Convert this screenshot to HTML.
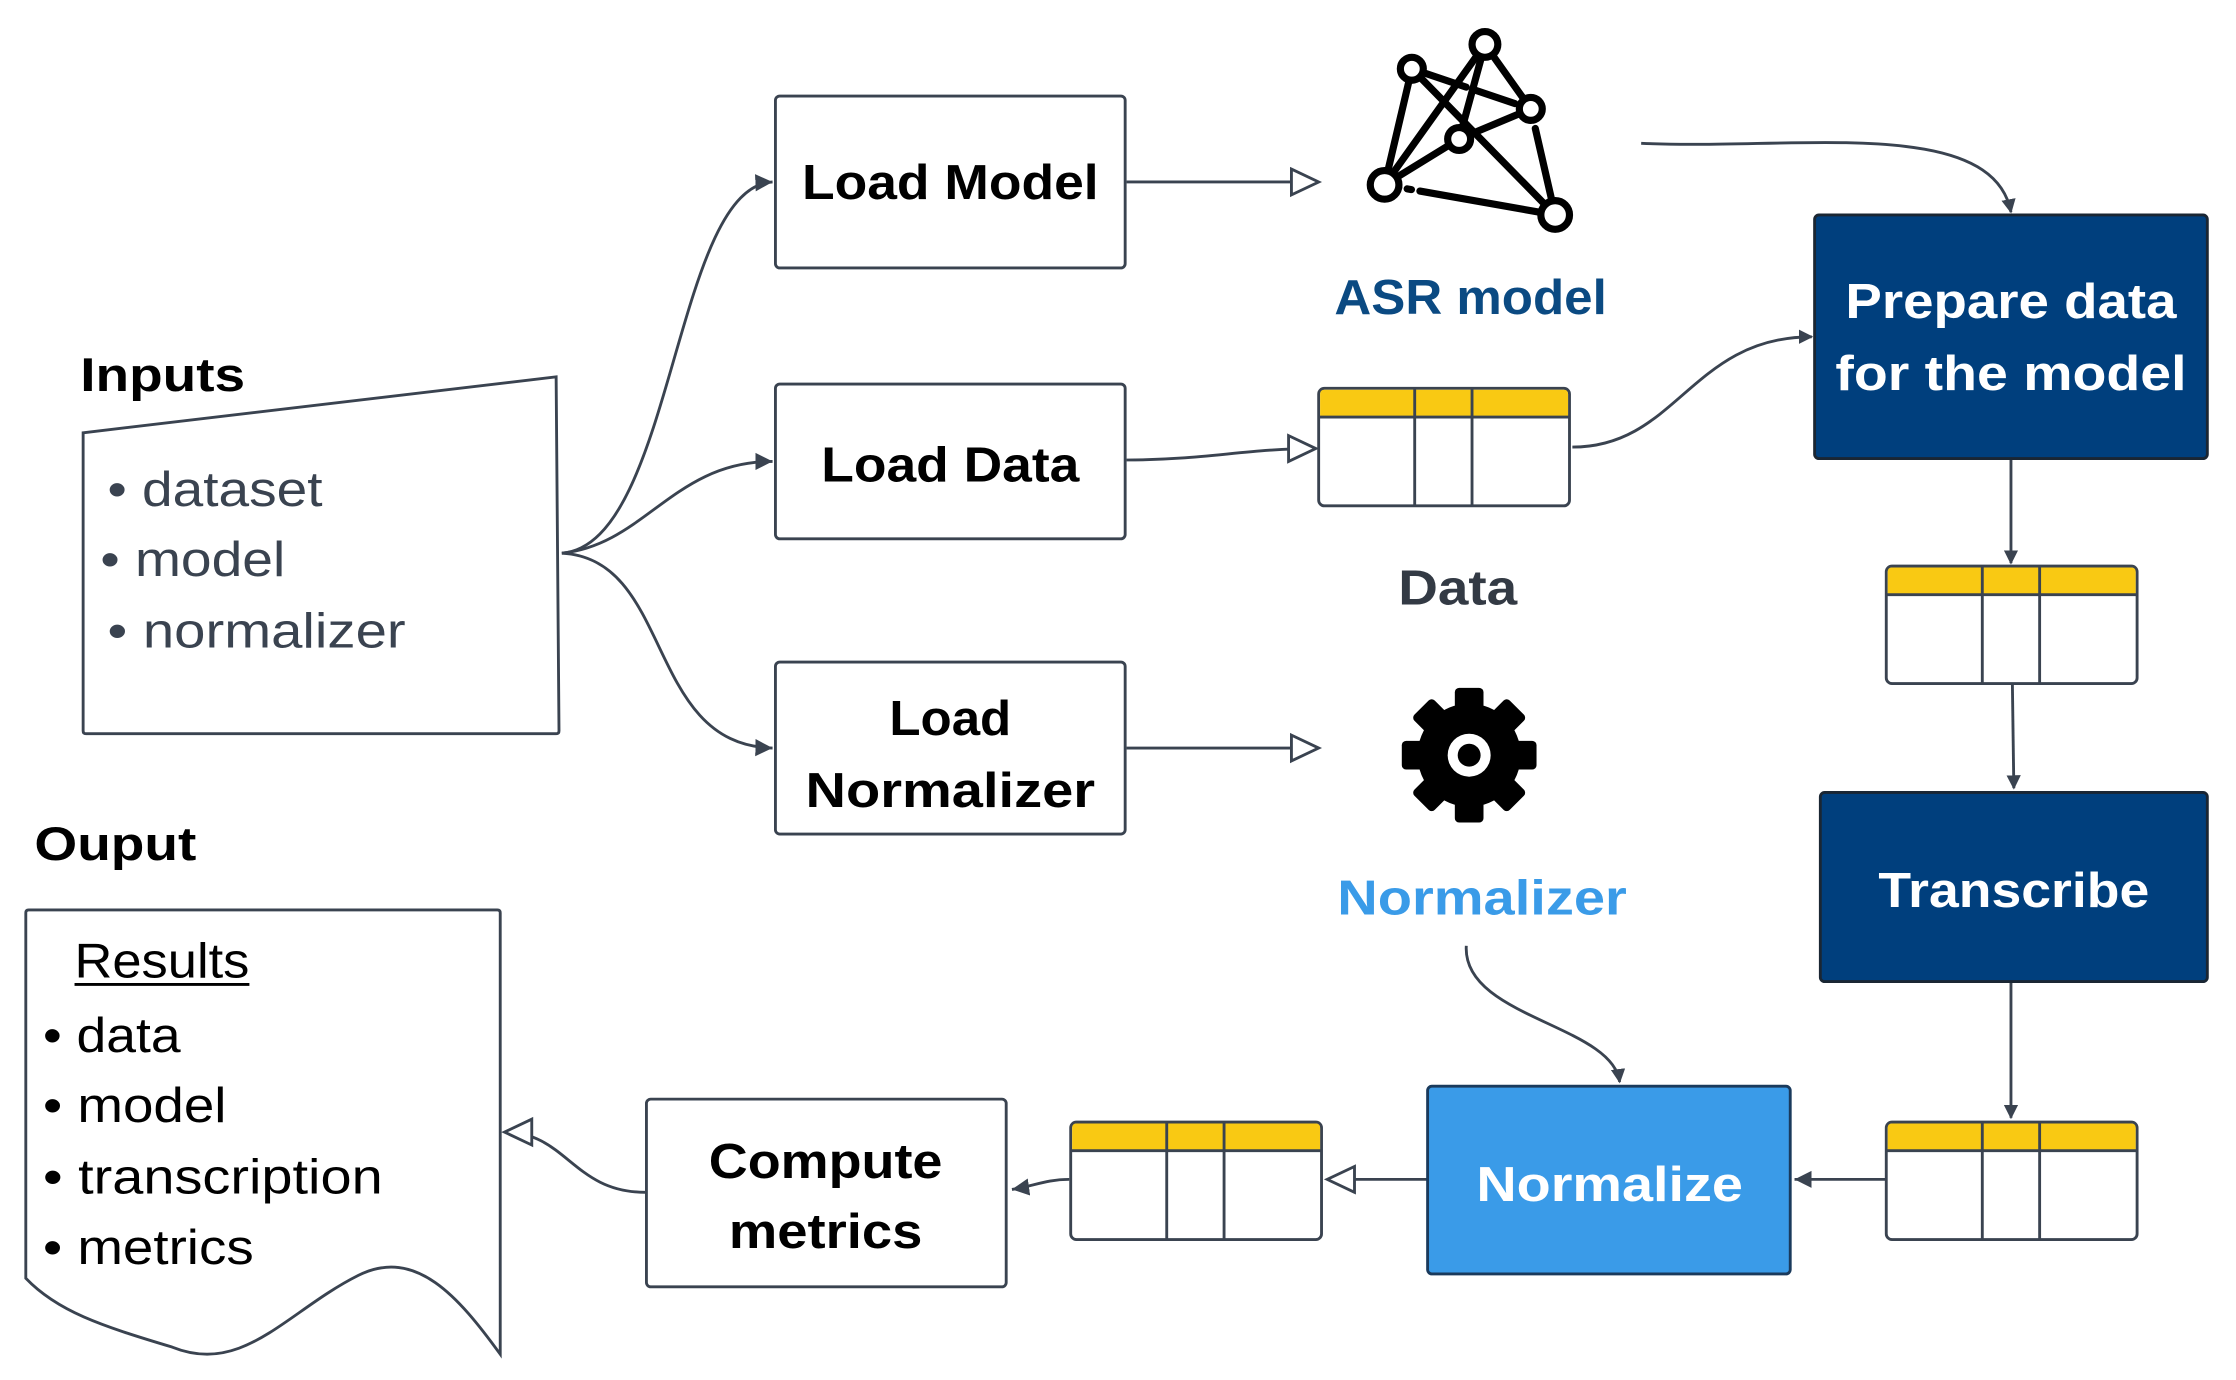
<!DOCTYPE html>
<html><head><meta charset="utf-8"><style>
html,body{margin:0;padding:0;background:#fff;}
svg{display:block;}
text{font-family:"Liberation Sans",sans-serif;}
</style></head><body>
<svg width="2236" height="1380" viewBox="0 0 1560 963" preserveAspectRatio="none" xmlns="http://www.w3.org/2000/svg">
<defs>
<marker id="fa" markerWidth="10" markerHeight="10" refX="9" refY="5" orient="auto" markerUnits="userSpaceOnUse"><path d="M0,0 L10,5 L0,10 Z" fill="#3a4350"/></marker>
<marker id="fb" markerWidth="14" markerHeight="14" refX="12" refY="7" orient="auto" markerUnits="userSpaceOnUse"><path d="M0,1 L12,7 L0,13 Z" fill="#3a4350"/></marker>
<marker id="ha" markerWidth="24" markerHeight="24" refX="21" refY="11" orient="auto" markerUnits="userSpaceOnUse"><path d="M2,2 L21,11 L2,20 Z" fill="#fff" stroke="#3a4350" stroke-width="2"/></marker>
</defs>
<g fill="none" stroke="#3a4350" stroke-width="2">
<path d="M392,386 C470,380 470,130 539,127" marker-end="url(#fb)"/>
<path d="M392,386 C450,380 470,322 539,322" marker-end="url(#fb)"/>
<path d="M392,386 C470,390 450,520 539,522" marker-end="url(#fb)"/>
<path d="M786,127 L920,127" marker-end="url(#ha)"/>
<path d="M786,321 C840,321 870,313 918,313" marker-end="url(#ha)"/>
<path d="M786,522 L920,522" marker-end="url(#ha)"/>
<path d="M1145,100 C1250,105 1390,80 1403,148" marker-end="url(#fa)"/>
<path d="M1097,312 C1170,312 1180,235 1264,235" marker-end="url(#fa)"/>
<path d="M1403,321 L1403,393" marker-end="url(#fa)"/>
<path d="M1404,478 L1405,550" marker-end="url(#fa)"/>
<path d="M1403,686 L1403,780" marker-end="url(#fa)"/>
<path d="M1316,823 L1252,823" marker-end="url(#fb)"/>
<path d="M1023,660 C1020,710 1125,715 1130,755" marker-end="url(#fa)"/>
<path d="M996,823 L926,823" marker-end="url(#ha)"/>
<path d="M746,823 C730,823 720,828 706,830" marker-end="url(#fb)"/>
<path d="M450,832 C400,832 395,790 352,790" marker-end="url(#ha)"/>
</g>
<text x="56" y="273" font-size="33" font-weight="bold" fill="#000" textLength="115" lengthAdjust="spacingAndGlyphs">Inputs</text>
<path d="M58,302 L388,263 L390,510 Q390,512 388,512 L60,512 Q58,512 58,510 Z" fill="#fff" stroke="#3a4350" stroke-width="2"/>
<g font-size="34" fill="#3a4350">
<text x="75" y="353" textLength="150" lengthAdjust="spacingAndGlyphs">• dataset</text>
<text x="70" y="402" textLength="129" lengthAdjust="spacingAndGlyphs">• model</text>
<text x="75" y="452" textLength="208" lengthAdjust="spacingAndGlyphs">• normalizer</text>
</g>
<g fill="#fff" stroke="#3a4350" stroke-width="2">
<rect x="541" y="67" width="244" height="120" rx="3"/>
<rect x="541" y="268" width="244" height="108" rx="3"/>
<rect x="541" y="462" width="244" height="120" rx="3"/>
<rect x="451" y="767" width="251" height="131" rx="3"/>
</g>
<g font-size="34" font-weight="bold" fill="#000" text-anchor="middle" lengthAdjust="spacingAndGlyphs">
<text x="663" y="139" textLength="207" lengthAdjust="spacingAndGlyphs">Load Model</text>
<text x="663" y="336" textLength="180" lengthAdjust="spacingAndGlyphs">Load Data</text>
<text x="663" y="513" textLength="85" lengthAdjust="spacingAndGlyphs">Load</text>
<text x="663" y="563" textLength="202" lengthAdjust="spacingAndGlyphs">Normalizer</text>
<text x="576" y="822" textLength="163" lengthAdjust="spacingAndGlyphs">Compute</text>
<text x="576" y="871" textLength="135" lengthAdjust="spacingAndGlyphs">metrics</text>
</g>
<g stroke="#000" stroke-width="5" fill="none" stroke-linecap="round">
<line x1="985" y1="48" x2="966" y2="129"/>
<line x1="1036" y1="31" x2="966" y2="129"/>
<line x1="1036" y1="31" x2="1018" y2="97"/>
<line x1="1036" y1="31" x2="1068" y2="76"/>
<line x1="985" y1="48" x2="1068" y2="76" stroke-dasharray="40,6,30"/>
<line x1="985" y1="48" x2="1085" y2="150"/>
<line x1="1018" y1="97" x2="966" y2="129"/>
<line x1="1018" y1="97" x2="1068" y2="76"/>
<line x1="1068" y1="76" x2="1085" y2="150" stroke-dasharray="8,6,60"/>
<line x1="966" y1="129" x2="1085" y2="150" stroke-dasharray="10,6,3,6,100"/>
<g fill="#fff"><circle cx="1036" cy="31" r="9"/><circle cx="985" cy="48" r="8"/><circle cx="1068" cy="76" r="8"/><circle cx="1018" cy="97" r="8"/><circle cx="966" cy="129" r="10"/><circle cx="1085" cy="150" r="10"/></g>
</g>
<text x="1026" y="219" font-size="34" font-weight="bold" fill="#0b4a82" text-anchor="middle" textLength="190" lengthAdjust="spacingAndGlyphs">ASR model</text>
<text x="1017" y="422" font-size="34" font-weight="bold" fill="#333a44" text-anchor="middle" textLength="83" lengthAdjust="spacingAndGlyphs">Data</text>
<text x="1034" y="638" font-size="34" font-weight="bold" fill="#3a9be8" text-anchor="middle" textLength="202" lengthAdjust="spacingAndGlyphs">Normalizer</text>
<g transform="translate(1025,527)">
<g fill="#000">
<circle r="36"/>
<rect x="-10" y="-47" width="20" height="94" rx="3"/>
<rect x="-10" y="-47" width="20" height="94" rx="3" transform="rotate(45)"/>
<rect x="-10" y="-47" width="20" height="94" rx="3" transform="rotate(90)"/>
<rect x="-10" y="-47" width="20" height="94" rx="3" transform="rotate(135)"/>
</g>
<circle r="15" fill="#fff"/><circle r="8" fill="#000"/>
</g>
<g id="tbl">
<rect x="920" y="271" width="175" height="82" rx="4" fill="#fff" stroke="#3a4350" stroke-width="2"/>
<path d="M921,291 L921,275 Q921,272 924,272 L1091,272 Q1094,272 1094,275 L1094,291 Z" fill="#f9c913"/>
<line x1="920" y1="291" x2="1095" y2="291" stroke="#3a4350" stroke-width="2"/>
<line x1="987" y1="271" x2="987" y2="353" stroke="#3a4350" stroke-width="2"/>
<line x1="1027" y1="271" x2="1027" y2="353" stroke="#3a4350" stroke-width="2"/>
</g>
<use href="#tbl" transform="translate(396,124)"/>
<use href="#tbl" transform="translate(396,512)"/>
<use href="#tbl" transform="translate(-173,512)"/>
<rect x="1266" y="150" width="274" height="170" rx="3" fill="#003f7d" stroke="#1a2633" stroke-width="2"/>
<rect x="1270" y="553" width="270" height="132" rx="3" fill="#003f7d" stroke="#1a2633" stroke-width="2"/>
<rect x="996" y="758" width="253" height="131" rx="3" fill="#3a9be8" stroke="#1a3a5c" stroke-width="2"/>
<g font-size="34" font-weight="bold" fill="#fff" text-anchor="middle">
<text x="1403" y="222" textLength="231" lengthAdjust="spacingAndGlyphs">Prepare data</text>
<text x="1403" y="272" textLength="245" lengthAdjust="spacingAndGlyphs">for the model</text>
<text x="1405" y="633" textLength="189" lengthAdjust="spacingAndGlyphs">Transcribe</text>
<text x="1123" y="838" textLength="186" lengthAdjust="spacingAndGlyphs">Normalize</text>
</g>
<text x="24" y="600" font-size="33" font-weight="bold" fill="#000" textLength="113" lengthAdjust="spacingAndGlyphs">Ouput</text>
<path d="M20,635 L347,635 Q349,635 349,637 L349,945 C320,905 290,870 250,890 C200,915 170,960 120,940 C70,925 40,915 18,892 L18,637 Q18,635 20,635 Z" fill="#fff" stroke="#3a4350" stroke-width="2"/>
<g font-size="34" fill="#000">
<text x="52" y="682" textLength="122" lengthAdjust="spacingAndGlyphs">Results</text>
<line x1="52" y1="687" x2="174" y2="687" stroke="#000" stroke-width="2"/>
<text x="30" y="734" textLength="96" lengthAdjust="spacingAndGlyphs">• data</text>
<text x="30" y="783" textLength="128" lengthAdjust="spacingAndGlyphs">• model</text>
<text x="30" y="833" textLength="237" lengthAdjust="spacingAndGlyphs">• transcription</text>
<text x="30" y="882" textLength="147" lengthAdjust="spacingAndGlyphs">• metrics</text>
</g>
</svg>
</body></html>
